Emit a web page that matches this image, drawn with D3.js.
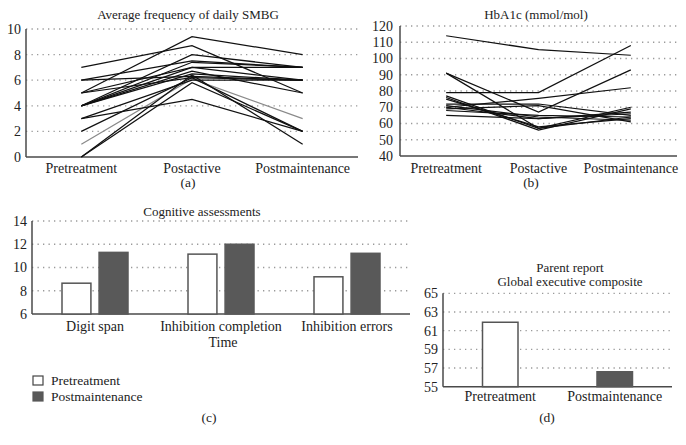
<!DOCTYPE html>
<html><head><meta charset="utf-8">
<script src="https://cdn.jsdelivr.net/npm/d3@7"></script>
<style>
body{margin:0;background:#fff;}
svg text{font-family:"Liberation Serif","Times New Roman",Times,"DejaVu Serif",serif;fill:#222;}
</style></head>
<body><svg id="c" width="686" height="445" font-family="Liberation Serif, Times New Roman, DejaVu Serif, serif"></svg>
<script>
// ---------- data ----------
const timepoints = ["Pretreatment", "Postactive", "Postmaintenance"];

// (a) Average frequency of daily SMBG: one row per participant [pre, postactive, postmaintenance]
const smbgLines = [
  [7, 8.7, 5],
  [5, 9.4, 8],
  [6, 7.5, 7],
  [6, 6.3, 6],
  [5, 7.0, 7],
  [5, 6.2, 6],
  [4, 8.0, 7],
  [4, 7.4, 7],
  [4, 7.0, 6],
  [4, 6.7, 5],
  [4, 6.5, 6],
  [3, 4.5, 2],
  [3, 6.0, 6],
  [2, 6.2, 2],
  [1, 6.1, 3],
  [0, 6.4, 1],
  [0, 5.8, 2]
];
const smbgGray = [14]; // index of the lighter line
const smbgTicks = [0, 2, 4, 6, 8, 10];

// (b) HbA1c (mmol/mol)
const hba1cLines = [
  [114, 105.5, 102],
  [91, 67, 93],
  [91, 57, 70],
  [79, 79, 108],
  [70, 75.5, 82],
  [77, 57, 64],
  [76, 56, 69],
  [75, 58, 63],
  [72, 72, 65],
  [71, 64, 62],
  [70, 63, 66],
  [69, 71, 61],
  [68, 65, 64],
  [65, 63, 67]
];
const hba1cTicks = [40, 50, 60, 70, 80, 90, 100, 110, 120];

// (c) Cognitive assessments
const cogCategories = ["Digit span", "Inhibition completion", "Inhibition errors"];
const cogPre = [8.65, 11.15, 9.2];
const cogPost = [11.3, 12.0, 11.22];
const cogTicks = [6, 8, 10, 12, 14];
const seriesNames = ["Pretreatment", "Postmaintenance"];

// (d) Parent report Global executive composite
const gecCategories = ["Pretreatment", "Postmaintenance"];
const gecValues = [61.9, 56.6];
const gecTicks = [55, 57, 59, 61, 63, 65];

// ---------- drawing ----------
const svg = d3.select("#c");
const axisColor = "#4a4a4a";
const darkFill = "#595959";
const gridColor = "#9a9a9a";

function yAxisAndGrid(g, y, ticks, x0, x1, labelX) {
  g.selectAll(null).data(ticks.slice(1)).join("line")
    .attr("x1", x0).attr("x2", x1)
    .attr("y1", d => y(d)).attr("y2", d => y(d))
    .attr("stroke", gridColor).attr("stroke-width", 1.3)
    .attr("stroke-dasharray", "1.3,4.2");
  g.selectAll(null).data(ticks).join("text")
    .attr("x", labelX).attr("y", d => y(d))
    .attr("dy", "0.35em").attr("text-anchor", "end")
    .attr("font-size", 14).text(d => d);
  g.append("line").attr("x1", x0).attr("x2", x0)
    .attr("y1", y(ticks[0])).attr("y2", y(ticks[ticks.length - 1]))
    .attr("stroke", axisColor).attr("stroke-width", 1.5);
  g.append("line").attr("x1", x0).attr("x2", x1)
    .attr("y1", y(ticks[0])).attr("y2", y(ticks[0]))
    .attr("stroke", axisColor).attr("stroke-width", 1.5);
}

function catLabels(g, x, cats, yPos) {
  g.selectAll(null).data(cats).join("text")
    .attr("x", d => x(d)).attr("y", yPos)
    .attr("text-anchor", "middle").attr("font-size", 14).text(d => d);
}

function lineChart(cfg) {
  const g = svg.append("g");
  const x = d3.scalePoint().domain(timepoints).range([cfg.x0, cfg.x1]).padding(0.5);
  const y = d3.scaleLinear().domain([cfg.ticks[0], cfg.ticks[cfg.ticks.length - 1]]).range([cfg.yBot, cfg.yTop]);
  yAxisAndGrid(g, y, cfg.ticks, cfg.x0, cfg.x1, cfg.labelX);
  const line = d3.line().x((d, i) => x(timepoints[i])).y(d => y(d));
  const order = cfg.data.map((d, i) => i).sort((a, b) => (cfg.gray.includes(a) ? 0 : 1) - (cfg.gray.includes(b) ? 0 : 1));
  g.selectAll(null).data(order).join("path")
    .attr("d", i => line(cfg.data[i]))
    .attr("fill", "none")
    .attr("stroke", i => cfg.gray.includes(i) ? "#8a8a8a" : "#111")
    .attr("stroke-width", 1.25);
  catLabels(g, x, timepoints, cfg.catY);
  g.append("text").attr("x", cfg.titleX).attr("y", cfg.titleY)
    .attr("text-anchor", "middle").attr("font-size", 13).text(cfg.title);
  g.append("text").attr("x", cfg.tagX).attr("y", cfg.tagY)
    .attr("text-anchor", "middle").attr("font-size", 13.5).text(cfg.tag);
}

lineChart({data: smbgLines, gray: smbgGray, ticks: smbgTicks, x0: 26, x1: 358, yTop: 29, yBot: 157,
  labelX: 21, catY: 173, title: "Average frequency of daily SMBG", titleX: 188, titleY: 19,
  tag: "(a)", tagX: 188, tagY: 187});
lineChart({data: hba1cLines, gray: [], ticks: hba1cTicks, x0: 400, x1: 677, yTop: 26, yBot: 156,
  labelX: 393, catY: 173, title: "HbA1c (mmol/mol)", titleX: 536, titleY: 19,
  tag: "(b)", tagX: 531, tagY: 187});

// (c) grouped bars
(function () {
  const g = svg.append("g");
  const x0 = d3.scaleBand().domain(cogCategories).range([32, 410]);
  const c = x0.bandwidth() / 2;
  const x1 = d3.scaleBand().domain(seriesNames).range([c - 33, c + 33]).paddingInner(0.22);
  const y = d3.scaleLinear().domain([6, 14]).range([314, 221]);
  yAxisAndGrid(g, y, cogTicks, 32, 410, 27);
  const rows = cogCategories.map((cat, i) => ({cat, vals: [cogPre[i], cogPost[i]]}));
  rows.forEach(r => {
    r.vals.forEach((v, j) => {
      g.append("rect")
        .attr("x", x0(r.cat) + x1(seriesNames[j]))
        .attr("width", x1.bandwidth())
        .attr("y", y(v)).attr("height", y(6) - y(v))
        .attr("fill", j === 0 ? "#fff" : darkFill)
        .attr("stroke", j === 0 ? "#555" : darkFill).attr("stroke-width", 1.5);
    });
  });
  const xc = d3.scalePoint().domain(cogCategories).range([32, 410]).padding(0.5);
  catLabels(g, xc, cogCategories, 331);
  g.append("text").attr("x", 223).attr("y", 347).attr("text-anchor", "middle").attr("font-size", 14).text("Time");
  g.append("text").attr("x", 202).attr("y", 216).attr("text-anchor", "middle").attr("font-size", 13).text("Cognitive assessments");
  seriesNames.forEach((s, j) => {
    g.append("rect").attr("x", 33).attr("y", 376 + j * 16).attr("width", 10).attr("height", 9)
      .attr("fill", j === 0 ? "#fff" : darkFill).attr("stroke", j === 0 ? "#444" : darkFill).attr("stroke-width", 1.2);
    g.append("text").attr("x", 51).attr("y", 385 + j * 16).attr("font-size", 13.5).text(s);
  });
  g.append("text").attr("x", 209).attr("y", 422).attr("text-anchor", "middle").attr("font-size", 13.5).text("(c)");
})();

// (d) bars
(function () {
  const g = svg.append("g");
  const x = d3.scaleBand().domain(gecCategories).range([443, 672]);
  const y = d3.scaleLinear().domain([55, 65]).range([386.7, 293.3]);
  yAxisAndGrid(g, y, gecTicks, 443, 672, 438);
  const bw = x.bandwidth() * 0.31;
  g.selectAll(null).data(gecCategories).join("rect")
    .attr("x", d => x(d) + x.bandwidth() / 2 - bw / 2)
    .attr("width", bw)
    .attr("y", (d, i) => y(gecValues[i]))
    .attr("height", (d, i) => y(55) - y(gecValues[i]))
    .attr("fill", (d, i) => i === 0 ? "#fff" : darkFill)
    .attr("stroke", (d, i) => i === 0 ? "#555" : darkFill).attr("stroke-width", 1.5);
  const xc = d3.scalePoint().domain(gecCategories).range([443, 672]).padding(0.5);
  catLabels(g, xc, gecCategories, 401);
  g.append("text").attr("x", 570).attr("y", 272).attr("text-anchor", "middle").attr("font-size", 13).text("Parent report");
  g.append("text").attr("x", 570).attr("y", 286).attr("text-anchor", "middle").attr("font-size", 13).text("Global executive composite");
  g.append("text").attr("x", 547).attr("y", 422).attr("text-anchor", "middle").attr("font-size", 13.5).text("(d)");
})();
</script></body></html>
